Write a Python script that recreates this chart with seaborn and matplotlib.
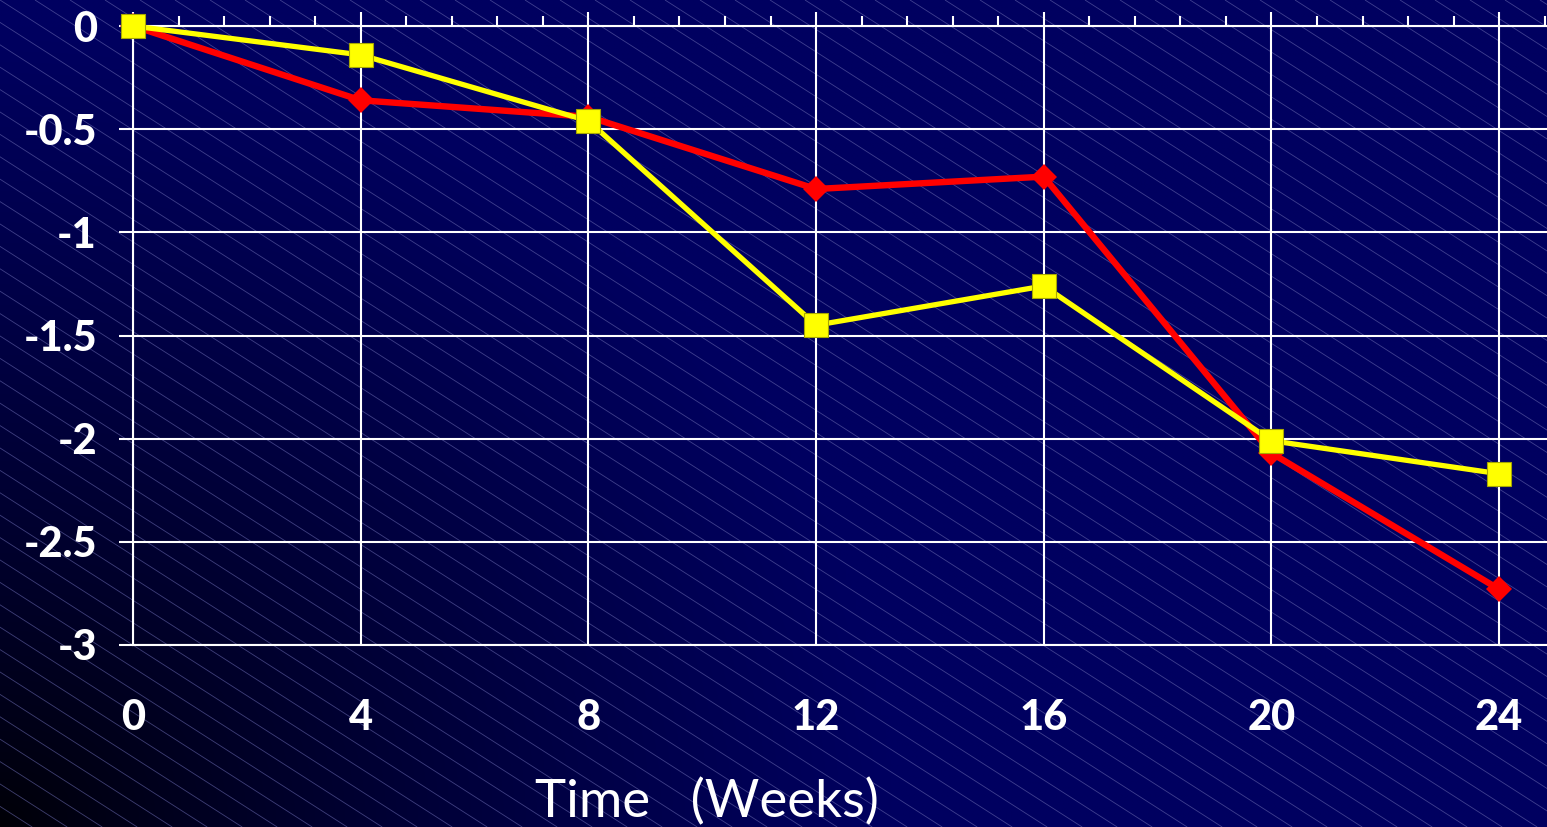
import numpy as np
import pandas as pd
import matplotlib
matplotlib.use("Agg")
import matplotlib.pyplot as plt
from matplotlib.ticker import MultipleLocator, AutoMinorLocator
from matplotlib.collections import LineCollection
import seaborn as sns

# data
weeks = [0, 4, 8, 12, 16, 20, 24]
red_change = [0.0, -0.36, -0.44, -0.79, -0.73, -2.07, -2.73]
yellow_change = [0.0, -0.14, -0.46, -1.45, -1.26, -2.01, -2.17]
y_ticks = [0, -0.5, -1, -1.5, -2, -2.5, -3]
y_labels = ['0', '-0.5', '-1', '-1.5', '-2', '-2.5', '-3']

df = pd.DataFrame({'week': weeks * 2,
                   'change': red_change + yellow_change,
                   'group': ['red'] * 7 + ['yellow'] * 7})

sns.set_style('dark')
plt.rcParams['font.family'] = ['Lato', 'DejaVu Sans']

W, H = 1547, 827
fig = plt.figure(figsize=(W / 100, H / 100), dpi=100)
fig.patch.set_facecolor('#000060')

# background: navy with dark corner bottom-left and thin diagonal stripes
bg = fig.add_axes([0, 0, 1, 1], zorder=0)
gx, gy = np.meshgrid(np.linspace(0, W, 310), np.linspace(0, H, 166))
d = np.hypot(gx * 0.9, H - gy)
f = np.clip(d / 800, 0, 1) ** 0.8
navy = np.array([0, 0, 96]) / 255
img = (0.06 + 0.94 * f)[..., None] * navy
bg.imshow(img, extent=(0, W, H, 0), aspect='auto', interpolation='bilinear')
x0s = np.arange(-1400, W + 40, 35)
segs = [[(x0, 0), (x0 + H / 0.64, H)] for x0 in x0s]
bg.add_collection(LineCollection(segs, colors='#6a6ab0', linewidths=0.6, alpha=0.6))
bg.set_xlim(0, W)
bg.set_ylim(H, 0)
bg.axis('off')

ax = fig.add_axes([133 / W, (H - 645) / H, (W - 133) / W, (645 - 26) / H], zorder=1)
ax.set_facecolor('none')

sns.lineplot(data=df[df.group == 'red'], x='week', y='change', color='#ff0000',
             marker='D', markersize=13, markeredgewidth=0, linewidth=4.6,
             clip_on=False, zorder=3, ax=ax)
sns.lineplot(data=df[df.group == 'yellow'], x='week', y='change', color='#ffff00',
             marker='s', markersize=17.5, markeredgecolor='#a8a800', markeredgewidth=0.8,
             linewidth=3.8, clip_on=False, zorder=4, ax=ax)

ax.set_xlim(0, 24.84)
ax.set_ylim(-3, 0)
ax.xaxis.set_major_locator(MultipleLocator(4))
ax.xaxis.set_minor_locator(AutoMinorLocator(5))
ax.set_yticks(y_ticks)
ax.set_yticklabels(y_labels)

ax.grid(True, which='major', color='white', linewidth=1.5)
ax.tick_params(axis='x', which='both', top=True, bottom=False, labelbottom=True,
               labeltop=False, direction='out', color='white', width=1.5)
ax.tick_params(axis='x', which='major', length=10, pad=29,
               labelsize=30, labelcolor='white')
ax.tick_params(axis='x', which='minor', length=7)
ax.tick_params(axis='y', which='major', left=True, direction='out', length=10,
               width=1.5, color='white', pad=16, labelsize=30, labelcolor='white')
for lab in ax.get_xticklabels() + ax.get_yticklabels():
    lab.set_fontweight('black')

for side in ['left', 'top', 'bottom']:
    ax.spines[side].set_color('white')
    ax.spines[side].set_linewidth(1.5)
ax.spines['right'].set_visible(False)

ax.set_ylabel('')
ax.set_xlabel('Time   (Weeks)', fontsize=38, color='white', va='baseline')
ax.xaxis.set_label_coords((707 - 133) / (W - 133), (645 - 817) / (645 - 26))

plt.savefig('out.png', dpi=100, facecolor=fig.get_facecolor())
